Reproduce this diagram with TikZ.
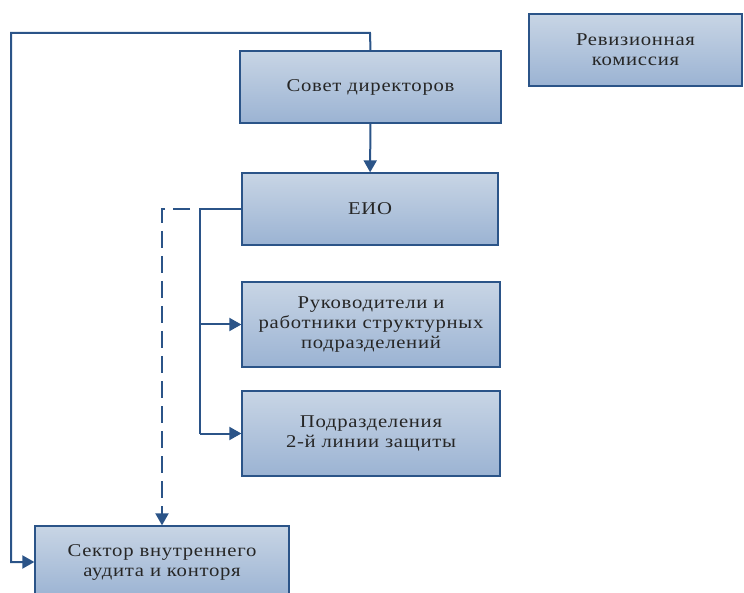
\documentclass[tikz,border=0pt]{standalone}
\usepackage{fontspec}
\setmainfont{Liberation Serif}[LetterSpace=4, FakeStretch=1.15]
\usetikzlibrary{arrows.meta}

\definecolor{edgeblue}{HTML}{2B5488}
\definecolor{boxtop}{HTML}{C8D5E5}
\definecolor{boxbottom}{HTML}{9BB3D3}
\definecolor{boxtext}{HTML}{262626}

\tikzset{
    orgbox/.style={draw=edgeblue, line width=1.3pt, top color=boxtop, bottom color=boxbottom,
        text=boxtext, align=center, inner sep=0pt, font=\fontsize{18}{20}\selectfont},
    link/.style={draw=edgeblue, line width=2pt},
    linkarrow/.style={link, -{Triangle[width=13pt,length=12pt]}}
}

\begin{document}
\begin{tikzpicture}[x=1pt,y=-1pt]
        % Fix the canvas
        \useasboundingbox (0,0) rectangle (744,593);
        % Boxes
        \node[orgbox, minimum width=261pt, minimum height=72pt] (board) at (370.5,87) {Совет директоров};
        \node[orgbox, minimum width=256pt, minimum height=72pt] (eio) at (370,209) {ЕИО};
        \node[orgbox, minimum width=258pt, minimum height=85pt] (heads) at (371,324.5) {Руководители и\\работники структурных\\подразделений};
        \node[orgbox, minimum width=258pt, minimum height=85pt] (second) at (371,433.5) {Подразделения\\2-й линии защиты};
        \node[orgbox, minimum width=254pt, minimum height=72pt] (audit) at (162,562) {Сектор внутреннего\\аудита и конторя};
        \node[orgbox, minimum width=213pt, minimum height=72pt] (rev) at (635.5,50) {Ревизионная\\комиссия};
        % Corner points
        \coordinate (top) at (370,33);
        \coordinate (farleft) at (11,33);
        \coordinate (bus) at (200,209);
        \coordinate (dash) at (162,209);
        % Connectors
        \draw[linkarrow] (board) -- (eio);
        \draw[linkarrow] (board.north) -- (top) -- (farleft) |- (audit.west);
        \draw[link] (eio.west) -- (bus) -- (bus |- second.west);
        \foreach \n in {heads,second} \draw[linkarrow] (bus |- \n.west) -- (\n.west);
        \draw[linkarrow, dash pattern=on 17pt off 8pt] ([xshift=-10pt]bus) -- (dash) -- (audit.north -| dash);
    \end{tikzpicture}
\end{document}
